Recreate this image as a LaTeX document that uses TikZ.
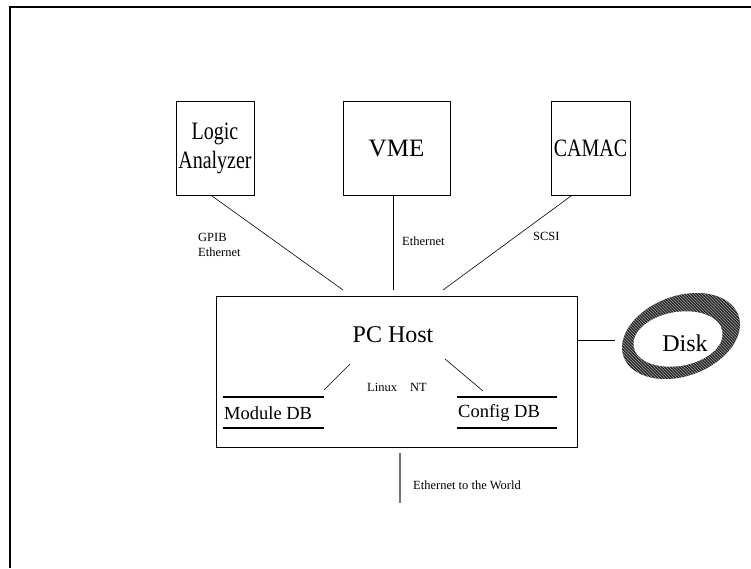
\documentclass[tikz,border=0pt]{standalone}
\usepackage{fontspec}
\setmainfont{Liberation Serif}
\usetikzlibrary{patterns}
\newcommand{\narrowtext}[1]{\scalebox{0.8}[1]{#1}}
\tikzset{
  unitbox/.style={draw=black, line width=0.8pt, inner sep=0pt, align=center, font=\fontsize{25}{30}\selectfont},
  small/.style={inner sep=0pt, font=\fontsize{12.5}{15}\selectfont},
  medium/.style={inner sep=0pt, font=\fontsize{18.5}{22}\selectfont},
  conn/.style={line width=0.6pt, black},
  dbline/.style={line width=2.4pt, black},
}
\begin{document}
\begin{tikzpicture}[x=1pt,y=-1pt]
\useasboundingbox (0,0) rectangle (751,568);
% frame
\draw[line width=1.6pt] (751,7) -- (10,7) -- (10,568);
% top boxes
\node[unitbox, minimum width=78pt, minimum height=94pt] (la) at (215,148) {\narrowtext{Logic}\\[-1pt]\narrowtext{Analyzer}};
\node[unitbox, minimum width=107pt, minimum height=94pt] (vme) at (396.5,148) {VME};
\node[unitbox, minimum width=79pt, minimum height=94pt] (camac) at (590.5,148) {\narrowtext{CAMAC}};
% host
\node[draw=black, line width=0.8pt, minimum width=361pt, minimum height=151pt, inner sep=0pt] (host) at (396.5,371.5) {};
\node[inner sep=0pt, font=\fontsize{24}{28}\selectfont] (pch) at (393,335) {PC Host};
% connector end points
\coordinate (laA) at (212,196);
\coordinate (laB) at (343,290);
\coordinate (vA) at (393,196);
\coordinate (vB) at (393,290);
\coordinate (cA) at (571,196);
\coordinate (cB) at (443,290);
\draw[conn] (laA) -- (laB);
\draw[conn] (vA) -- (vB);
\draw[conn] (cA) -- (cB);
% labels
\node[small, anchor=west, align=left] (gpib) at (198,244.5) {GPIB\\Ethernet};
\node[small, anchor=west] (veth) at (402,241) {Ethernet};
\node[small, anchor=west] (scsi) at (533,236) {SCSI};
% databases
\coordinate (mdb1) at (223,397);
\coordinate (mdb2) at (324,397);
\coordinate (mdb3) at (223,428);
\coordinate (mdb4) at (324,428);
\draw[dbline] (mdb1) -- (mdb2);
\draw[dbline] (mdb3) -- (mdb4);
\node[medium, anchor=west] (mdb) at (224,413) {Module DB};
\coordinate (cdb1) at (457,397);
\coordinate (cdb2) at (557,397);
\coordinate (cdb3) at (457,428);
\coordinate (cdb4) at (557,428);
\draw[dbline] (cdb1) -- (cdb2);
\draw[dbline] (cdb3) -- (cdb4);
\node[medium, anchor=west] (cdb) at (458,413) {Config DB};
\coordinate (lA) at (350,364);
\coordinate (lB) at (324,390);
\coordinate (rA) at (445,359);
\coordinate (rB) at (483,391);
\draw[conn] (lA) -- (lB);
\draw[conn] (rA) -- (rB);
\node[small, anchor=west] (linux) at (367,387) {Linux};
\node[small, anchor=west] (nt) at (410,387) {NT};
% disk
\fill[black!85, rotate around={20:(681,336)}] (681,336) ellipse [x radius=61pt, y radius=40pt];
\fill[pattern=north west lines, pattern color=black!35, rotate around={20:(681,336)}] (681,336) ellipse [x radius=61pt, y radius=40pt];
\fill[white, rotate around={10:(678,339)}] (678,339) ellipse [x radius=45pt, y radius=27pt];
\node[inner sep=0pt, font=\fontsize{24}{28}\selectfont] (disk) at (685,343) {Disk};
\coordinate (dl) at (615,340);
\draw[conn] (host.east |- dl) -- (dl);
% ethernet to the world
\coordinate (wA) at (400,453);
\coordinate (wB) at (400,503);
\draw[line width=1.2pt, black!55] (wA) -- (wB);
\node[small, anchor=west] (world) at (413,485) {Ethernet to the World};
\end{tikzpicture}
\end{document}
